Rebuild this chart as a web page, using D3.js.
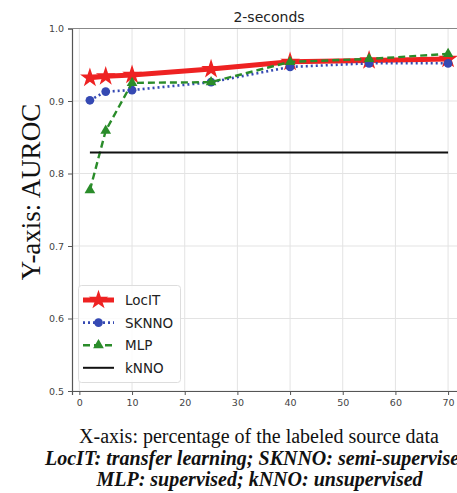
<!DOCTYPE html>
<html><head><meta charset="utf-8">
<script src="https://cdn.jsdelivr.net/npm/d3@7"></script>
<style>html,body{margin:0;padding:0;background:#fff;overflow:hidden}</style>
</head><body>
<svg id="chart" width="457" height="493"></svg>
<script>
const xValues = [2, 5, 10, 25, 40, 55, 70];
const locit = [0.932, 0.934, 0.936, 0.944, 0.954, 0.956, 0.958];
const sknno = [0.901, 0.913, 0.915, 0.926, 0.947, 0.952, 0.952];
const mlp   = [0.777, 0.859, 0.925, 0.926, 0.954, 0.958, 0.965];
const knno  = [0.829, 0.829, 0.829, 0.829, 0.829, 0.829, 0.829];
const xTicks = [0, 10, 20, 30, 40, 50, 60, 70];
const yTicks = [0.5, 0.6, 0.7, 0.8, 0.9, 1.0];
const seriesNames = ["LocIT", "SKNNO", "MLP", "kNNO"];

const svg = d3.select("#chart");
const x = d3.scaleLinear().domain([-1.4, 73.4]).range([72, 466]);
const y = d3.scaleLinear().domain([0.5, 1.0]).range([391, 28.5]);

// grid
svg.append("g").selectAll("line").data(xTicks).join("line")
  .attr("x1", d => x(d)).attr("x2", d => x(d)).attr("y1", y(1)).attr("y2", y(0.5))
  .attr("stroke", "#e3e3e3").attr("stroke-width", 1);
svg.append("g").selectAll("line").data(yTicks).join("line")
  .attr("x1", x(-1.4)).attr("x2", x(73.4)).attr("y1", d => y(d)).attr("y2", d => y(d))
  .attr("stroke", "#e3e3e3").attr("stroke-width", 1);

// axes
const xAxis = svg.append("g").attr("transform", `translate(0,${y(0.5)})`)
  .call(d3.axisBottom(x).tickValues(xTicks).tickFormat(d3.format("d")).tickSizeOuter(0).tickSize(4).tickPadding(4));
const yAxis = svg.append("g").attr("transform", `translate(${x(-1.4)},0)`)
  .call(d3.axisLeft(y).tickValues(yTicks).tickFormat(d3.format(".1f")).tickSizeOuter(0).tickSize(4).tickPadding(4));
[xAxis, yAxis].forEach(a => {
  a.selectAll("text").attr("font-family", "DejaVu Sans").attr("font-size", "9.5px").attr("fill", "#444");
  a.selectAll(".tick line").attr("stroke", "#555");
  a.select(".domain").attr("stroke", "#555").attr("stroke-width", 1.2);
});
// top spine
svg.append("line").attr("x1", x(-1.4)).attr("x2", x(73.4)).attr("y1", y(1)).attr("y2", y(1))
  .attr("stroke", "#888").attr("stroke-width", 1.2);

const star = d3.symbol().type(d3.symbolStar).size(120);
const circ = d3.symbol().type(d3.symbolCircle).size(60);
const tri = d3.symbol().type(d3.symbolTriangle).size(50);

const series = [
  {name: "LocIT", vals: locit, color: "#ee2222", width: 5, dash: null, sym: star},
  {name: "SKNNO", vals: sknno, color: "#3549b3", width: 2.6, dash: "2,3", sym: circ},
  {name: "MLP", vals: mlp, color: "#2a8c2a", width: 2.4, dash: "7,4", sym: tri},
  {name: "kNNO", vals: knno, color: "#111", width: 2, dash: null, sym: null}
];
const line = d3.line().x(d => x(d[0])).y(d => y(d[1]));
series.forEach(s => {
  const pts = xValues.map((xv, i) => [xv, s.vals[i]]);
  svg.append("path").datum(pts).attr("d", line).attr("fill", "none")
    .attr("stroke", s.color).attr("stroke-width", s.width)
    .attr("stroke-dasharray", s.dash);
  if (s.sym) {
    svg.append("g").selectAll("path").data(pts).join("path")
      .attr("d", s.sym).attr("transform", d => `translate(${x(d[0])},${y(d[1])})`)
      .attr("fill", s.color);
  }
});

// title
svg.append("text").attr("x", 269).attr("y", 22).attr("text-anchor", "middle")
  .attr("font-family", "DejaVu Sans").attr("font-size", "14px").attr("fill", "#222").text("2-seconds");

// y label
svg.append("text").attr("transform", "translate(40,192) rotate(-90)").attr("text-anchor", "middle")
  .attr("font-family", "Liberation Serif").attr("font-size", "27px").attr("fill", "#111").text("Y-axis: AUROC");

// legend
const lg = svg.append("g");
lg.append("rect").attr("x", 78.5).attr("y", 285.5).attr("width", 102).attr("height", 97).attr("rx", 3)
  .attr("fill", "#fff").attr("fill-opacity", 0.85).attr("stroke", "#ddd");
series.forEach((s, i) => {
  const yy = 300 + i * 22.6;
  lg.append("line").attr("x1", 83).attr("x2", 114).attr("y1", yy).attr("y2", yy)
    .attr("stroke", s.color).attr("stroke-width", s.width).attr("stroke-dasharray", s.dash);
  if (s.sym) lg.append("path").attr("d", s.sym).attr("transform", `translate(98.5,${yy})`).attr("fill", s.color);
  lg.append("text").attr("x", 125).attr("y", yy + 5).attr("font-family", "DejaVu Sans")
    .attr("font-size", "13.5px").attr("fill", "#222").text(seriesNames[i]);
});

// captions
svg.append("text").attr("x", 259).attr("y", 443).attr("text-anchor", "middle")
  .attr("font-family", "Liberation Serif").attr("font-size", "20px").attr("fill", "#111")
  .text("X-axis: percentage of the labeled source data");
svg.append("text").attr("x", 45).attr("y", 465)
  .attr("font-family", "Liberation Serif").attr("font-size", "20px").attr("font-weight", "bold").attr("font-style", "italic").attr("fill", "#111")
  .text("LocIT: transfer learning; SKNNO: semi-supervised;");
svg.append("text").attr("x", 259.5).attr("y", 486).attr("text-anchor", "middle")
  .attr("font-family", "Liberation Serif").attr("font-size", "20px").attr("font-weight", "bold").attr("font-style", "italic").attr("fill", "#111")
  .text("MLP: supervised; kNNO: unsupervised");
</script>
</body></html>
